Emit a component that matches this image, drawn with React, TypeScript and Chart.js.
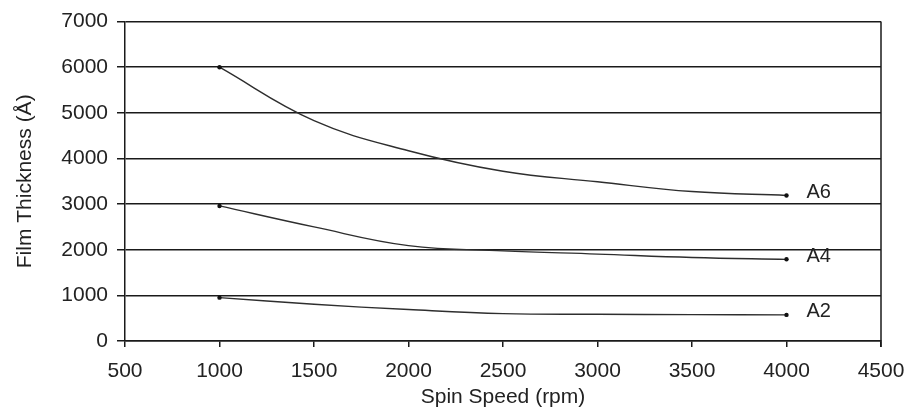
import React, { useEffect, useRef } from "react";
import { Chart, registerables } from "chart.js";

Chart.register(...registerables);

const spinSpeeds = [1000, 1500, 2000, 2500, 3000, 3500, 4000];
const seriesNames = ["A6", "A4", "A2"];
const a6Values = [6000, 4830, 4170, 3720, 3490, 3275, 3190];
const a4Values = [2960, 2500, 2090, 1975, 1905, 1830, 1790];
const a2Values = [950, 805, 690, 600, 585, 578, 572];
const xTicks = [500, 1000, 1500, 2000, 2500, 3000, 3500, 4000, 4500];
const yTicks = [0, 1000, 2000, 3000, 4000, 5000, 6000, 7000];
const xTitle = "Spin Speed (rpm)";
const yTitle = "Film Thickness (Å)";

const FONT = "'Liberation Sans', Arial, Helvetica, sans-serif";
const TEXT = "#222222";
const LINE = "#1a1a1a";

export default function App() {
  const ref = useRef<HTMLCanvasElement>(null);

  useEffect(() => {
    const canvas = ref.current;
    if (!canvas) return;
    const seriesValues = [a6Values, a4Values, a2Values];
    const lastIdx = spinSpeeds.length - 1;

    const endLabels = {
      id: "endLabels",
      afterDatasetsDraw(chart: any) {
        const { ctx, scales } = chart;
        ctx.save();
        ctx.font = `20px ${FONT}`;
        ctx.fillStyle = TEXT;
        ctx.textAlign = "left";
        ctx.textBaseline = "middle";
        seriesNames.forEach((name, i) => {
          const px = scales.x.getPixelForValue(spinSpeeds[lastIdx]);
          const py = scales.y.getPixelForValue(seriesValues[i][lastIdx]);
          ctx.fillText(name, px + 20, py - 3);
        });
        const { right, top, bottom } = chart.chartArea;
        ctx.strokeStyle = LINE;
        ctx.lineWidth = 1.5;
        ctx.beginPath();
        ctx.moveTo(right, top);
        ctx.lineTo(right, bottom + 6);
        ctx.stroke();
        ctx.restore();
      },
    };

    const chart = new Chart(canvas, {
      type: "line",
      data: {
        datasets: seriesNames.map((name, i) => ({
          label: name,
          data: spinSpeeds.map((x, j) => ({ x, y: seriesValues[i][j] })),
          borderColor: "#2e2e2e",
          borderWidth: 1.4,
          tension: 0.4,
          pointRadius: spinSpeeds.map((_, j) => (j === 0 || j === lastIdx ? 2.2 : 0)),
          pointBackgroundColor: "#111",
          pointBorderColor: "#111",
          pointBorderWidth: 0,
          fill: false,
        })),
      },
      options: {
        responsive: false,
        animation: false,
        layout: { padding: { top: 19, right: 26, left: 0, bottom: 0 } },
        plugins: {
          legend: { display: false },
          tooltip: { enabled: false },
        },
        scales: {
          x: {
            type: "linear",
            min: xTicks[0],
            max: xTicks[xTicks.length - 1],
            afterBuildTicks: (s: any) => {
              s.ticks = xTicks.map((v) => ({ value: v }));
            },
            afterFit: (s: any) => {
              s.height = 77;
              s.paddingLeft = 0;
              s.paddingRight = 0;
            },
            ticks: {
              font: { family: FONT, size: 21 },
              color: TEXT,
              padding: 12,
              maxRotation: 0,
              callback: (v: any) => String(v),
            },
            grid: {
              drawOnChartArea: false,
              drawTicks: true,
              tickLength: 6,
              color: LINE,
              lineWidth: 1.5,
            },
            border: { display: true, color: LINE, width: 1.5 },
            title: {
              display: true,
              text: xTitle,
              font: { family: FONT, size: 21 },
              color: TEXT,
              padding: { top: 0, bottom: 8 },
            },
          },
          y: {
            type: "linear",
            min: yTicks[0],
            max: yTicks[yTicks.length - 1],
            afterBuildTicks: (s: any) => {
              s.ticks = yTicks.map((v) => ({ value: v }));
            },
            afterFit: (s: any) => {
              s.width = 125;
            },
            ticks: {
              font: { family: FONT, size: 21 },
              color: TEXT,
              padding: 9,
              callback: (v: any) => String(v),
            },
            grid: {
              drawOnChartArea: true,
              drawTicks: true,
              tickLength: 8,
              color: LINE,
              lineWidth: 1.5,
            },
            border: { display: true, color: LINE, width: 1.5 },
            title: {
              display: true,
              text: yTitle,
              font: { family: FONT, size: 21 },
              color: TEXT,
              padding: { top: 13, bottom: 0 },
            },
          },
        },
      },
      plugins: [endLabels],
    });
    return () => chart.destroy();
  }, []);

  return (
    <div style={{ position: "fixed", left: 0, top: 0, width: 907, height: 418, background: "#fff" }}>
      <canvas ref={ref} width={907} height={418} style={{ display: "block" }} />
    </div>
  );
}
